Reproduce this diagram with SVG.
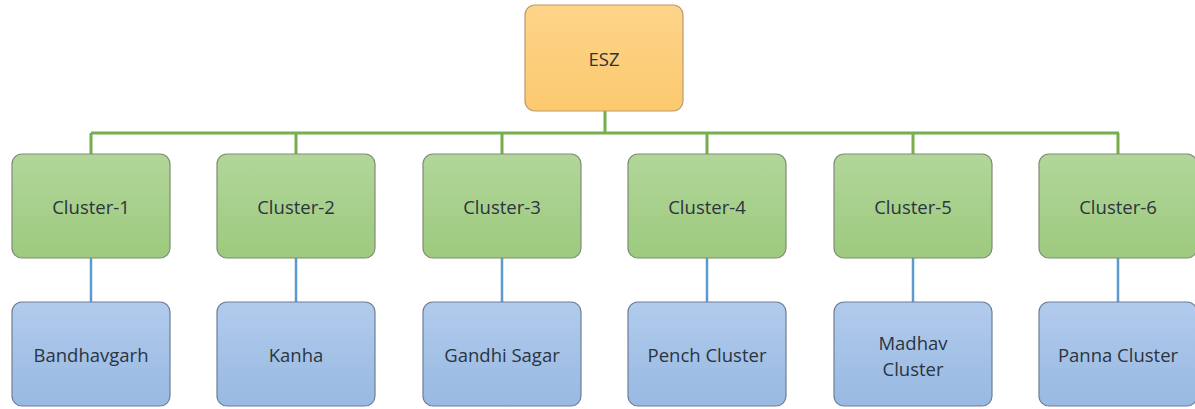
<svg xmlns="http://www.w3.org/2000/svg" width="1195" height="409" viewBox="0 0 1195 409">
  <defs>
    <linearGradient id="gOrange" x1="0" y1="0" x2="0" y2="1">
      <stop offset="0" stop-color="#fdd48a"/>
      <stop offset="1" stop-color="#fcc96e"/>
    </linearGradient>
    <linearGradient id="gGreen" x1="0" y1="0" x2="0" y2="1">
      <stop offset="0" stop-color="#b2d69a"/>
      <stop offset="1" stop-color="#9dca7e"/>
    </linearGradient>
    <linearGradient id="gBlue" x1="0" y1="0" x2="0" y2="1">
      <stop offset="0" stop-color="#b1cbec"/>
      <stop offset="1" stop-color="#98b9e2"/>
    </linearGradient>
  </defs>
  <style>
    .box { stroke-width: 1.2; }
    .root { fill: url(#gOrange); stroke: #b9996a; }
    .mid { fill: url(#gGreen); stroke: #7e8c74; }
    .leaf { fill: url(#gBlue); stroke: #6d7f96; }
    .lbl { font-family: "Open Sans", "Liberation Sans", sans-serif; font-size: 18.5px; fill: #2b3440; text-anchor: middle; dominant-baseline: central; }
    .cg { stroke: #77ae4c; stroke-width: 3; fill: none; }
    .cb { stroke: #5c9bd2; stroke-width: 2.5; fill: none; }
  </style>

  <g id="connectors">
    <path class="cg" d="M605 111 V133 M91 133 H1119 M91 133 V154 M296 133 V154 M502 133 V154 M707 133 V154 M913 133 V154 M1118 133 V154"/>
    <path class="cb" d="M91 258 V302 M296 258 V302 M502 258 V302 M707 258 V302 M913 258 V302 M1118 258 V302"/>
  </g>

  <g id="esz">
    <rect class="box root" x="525" y="5" width="158" height="106" rx="10"/>
    <text class="lbl" x="604" y="58">ESZ</text>
  </g>

  <g id="cluster-1">
    <rect class="box mid" x="12" y="154" width="158" height="104" rx="10"/>
    <text class="lbl" x="91" y="206">Cluster-1</text>
  </g>
  <g id="cluster-2">
    <rect class="box mid" x="217" y="154" width="158" height="104" rx="10"/>
    <text class="lbl" x="296" y="206">Cluster-2</text>
  </g>
  <g id="cluster-3">
    <rect class="box mid" x="423" y="154" width="158" height="104" rx="10"/>
    <text class="lbl" x="502" y="206">Cluster-3</text>
  </g>
  <g id="cluster-4">
    <rect class="box mid" x="628" y="154" width="158" height="104" rx="10"/>
    <text class="lbl" x="707" y="206">Cluster-4</text>
  </g>
  <g id="cluster-5">
    <rect class="box mid" x="834" y="154" width="158" height="104" rx="10"/>
    <text class="lbl" x="913" y="206">Cluster-5</text>
  </g>
  <g id="cluster-6">
    <rect class="box mid" x="1039" y="154" width="158" height="104" rx="10"/>
    <text class="lbl" x="1118" y="206">Cluster-6</text>
  </g>

  <g id="bandhavgarh">
    <rect class="box leaf" x="12" y="302" width="158" height="104" rx="10"/>
    <text class="lbl" x="91" y="354">Bandhavgarh</text>
  </g>
  <g id="kanha">
    <rect class="box leaf" x="217" y="302" width="158" height="104" rx="10"/>
    <text class="lbl" x="296" y="354">Kanha</text>
  </g>
  <g id="gandhi-sagar">
    <rect class="box leaf" x="423" y="302" width="158" height="104" rx="10"/>
    <text class="lbl" x="502" y="354">Gandhi Sagar</text>
  </g>
  <g id="pench-cluster">
    <rect class="box leaf" x="628" y="302" width="158" height="104" rx="10"/>
    <text class="lbl" x="707" y="354">Pench Cluster</text>
  </g>
  <g id="madhav-cluster">
    <rect class="box leaf" x="834" y="302" width="158" height="104" rx="10"/>
    <text class="lbl" x="913" y="342">Madhav</text>
    <text class="lbl" x="913" y="368">Cluster</text>
  </g>
  <g id="panna-cluster">
    <rect class="box leaf" x="1039" y="302" width="158" height="104" rx="10"/>
    <text class="lbl" x="1118" y="354">Panna Cluster</text>
  </g>
</svg>
